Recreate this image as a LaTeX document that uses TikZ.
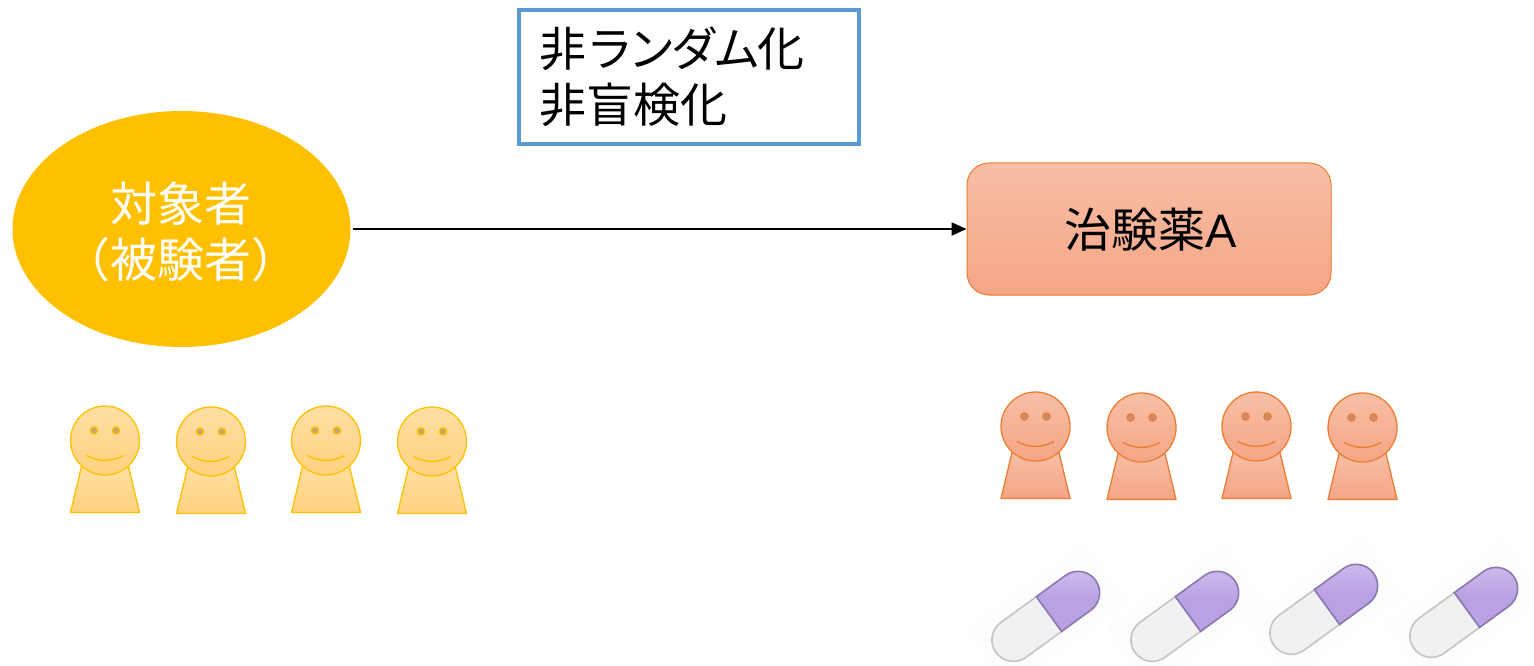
\documentclass[tikz,border=0pt]{standalone}
\usepackage{fontspec}
\setmainfont{Liberation Sans}
\newfontfamily\cjk{Noto Sans CJK JP}
\newfontfamily\cjkp[RawFeature=+palt]{Noto Sans CJK JP}
\usetikzlibrary{arrows.meta,shapes.geometric}
\definecolor{gold}{HTML}{FFC000}
\definecolor{goldtop}{HTML}{FFDFA3}
\definecolor{goldbot}{HTML}{FFD27F}
\definecolor{goldeye}{HTML}{C4A870}
\definecolor{coral}{HTML}{ED7D31}
\definecolor{coraltop}{HTML}{F7BFA6}
\definecolor{coralbot}{HTML}{F6A586}
\definecolor{coraleye}{HTML}{C48F78}
\definecolor{skyline}{HTML}{5B9BD5}
\definecolor{capviolet}{HTML}{B9A2E4}
\definecolor{capvioletlight}{HTML}{CDBCEC}
\definecolor{capvioletedge}{HTML}{8A78AE}
\definecolor{capwhite}{HTML}{F1F1F4}
\definecolor{capedge}{HTML}{C4C4C4}
\tikzset{
  x=1pt,y=-1pt,
  cohort/.style={ellipse,fill=gold,draw=none,inner sep=0pt,minimum width=338pt,minimum height=236pt,text=white,align=center},
  armbox/.style={rectangle,rounded corners=22pt,draw=coral,line width=1pt,top color=coraltop,bottom color=coralbot,minimum width=364pt,minimum height=132pt,inner sep=0pt},
  notebox/.style={rectangle,draw=skyline,line width=3.5pt,fill=white,minimum width=340pt,minimum height=134pt,inner sep=0pt},
  flow/.style={draw=black,line width=2pt,-{Triangle[length=15pt,width=13pt]}},
}
% Smiling figure: trunk and head around the head centre (#1,#2)
\newcommand{\smilebody}[5]{%
  \begin{scope}[shift={(#1,#2)}]
    \path[draw=#3,line width=1.3pt,top color=#4,bottom color=#5] (-23,24) -- (-34.5,72) -- (34.5,72) -- (23,24) -- cycle;
    \path[draw=#3,line width=1.3pt,top color=#4,bottom color=#5] (0,0) circle[radius=34.5];
  \end{scope}}
% Eyes and mouth of the figure
\newcommand{\smileface}[3]{%
  \begin{scope}[shift={(#1,#2)}]
    \path[draw=#3,line width=1.3pt,fill=#3eye] (-11,-10) circle[radius=3.6];
    \path[draw=#3,line width=1.3pt,fill=#3eye] (11,-10) circle[radius=3.6];
    \draw[#3,line width=1.4pt] (-18.5,15) .. controls (-7,21.5) and (7,21.5) .. (18.5,15);
  \end{scope}}
% Two-tone capsule lying at 36 degrees, centred on its seam
\newcommand{\pillshape}[2]{%
  \begin{scope}[shift={(#1,#2)},rotate=36]
    \fill[white!99.3!black] (-75,-37) rectangle (70,37);
    \path[draw=capedge,line width=1.6pt,fill=capwhite] (0,-21.5) -- (-44,-21.5) arc[start angle=-90,end angle=-270,radius=21.5] -- (0,21.5) -- cycle;
    \path[draw=capvioletedge,line width=1.6pt,top color=capvioletlight,bottom color=capviolet,middle color=capviolet] (0,21.5) -- (36,21.5) arc[start angle=90,end angle=-90,radius=21.5] -- (0,-21.5) -- cycle;
  \end{scope}}
\begin{document}
\begin{tikzpicture}
\useasboundingbox (0,0) rectangle (1534,666);
\fontsize{47pt}{56pt}\selectfont
\node[cohort] (subjects) at (181.5,229) {};
\node[text=white,align=center,inner sep=0pt] (subjectlabel) at (181,232) {\cjk 対象者\\\cjk （被験者）};
\node[armbox] (drug) at (1149,229) {};
\node[inner sep=0pt] (druglabel) at (1150.5,230) {\cjk 治験薬{\rmfamily A}};
\node[notebox] (design) at (689,77) {};
\node[align=left,inner sep=0pt,anchor=west] (designlabel) at (539,77) {\cjkp 非{\hspace{4pt}}ランダム{\hspace{-2pt}}化\\\cjk 非盲検化};
\draw[flow] (subjects.east) ++(2,0) coordinate (start) -- (drug.west);
\smilebody{105}{440.5}{gold}{goldtop}{goldbot}
\smilebody{211}{441.5}{gold}{goldtop}{goldbot}
\smilebody{326}{440.5}{gold}{goldtop}{goldbot}
\smilebody{432}{441.5}{gold}{goldtop}{goldbot}
\smileface{105}{440.5}{gold}
\smileface{211}{441.5}{gold}
\smileface{326}{440.5}{gold}
\smileface{432}{441.5}{gold}
\smilebody{1035.5}{426.5}{coral}{coraltop}{coralbot}
\smilebody{1141.5}{427.5}{coral}{coraltop}{coralbot}
\smilebody{1256.5}{426.5}{coral}{coraltop}{coralbot}
\smilebody{1362.5}{427.5}{coral}{coraltop}{coralbot}
\smileface{1035.5}{426.5}{coral}
\smileface{1141.5}{427.5}{coral}
\smileface{1256.5}{426.5}{coral}
\smileface{1362.5}{427.5}{coral}
\pillshape{1049}{614}
\pillshape{1188}{614}
\pillshape{1327}{607}
\pillshape{1467}{610}
\end{tikzpicture}
\end{document}
